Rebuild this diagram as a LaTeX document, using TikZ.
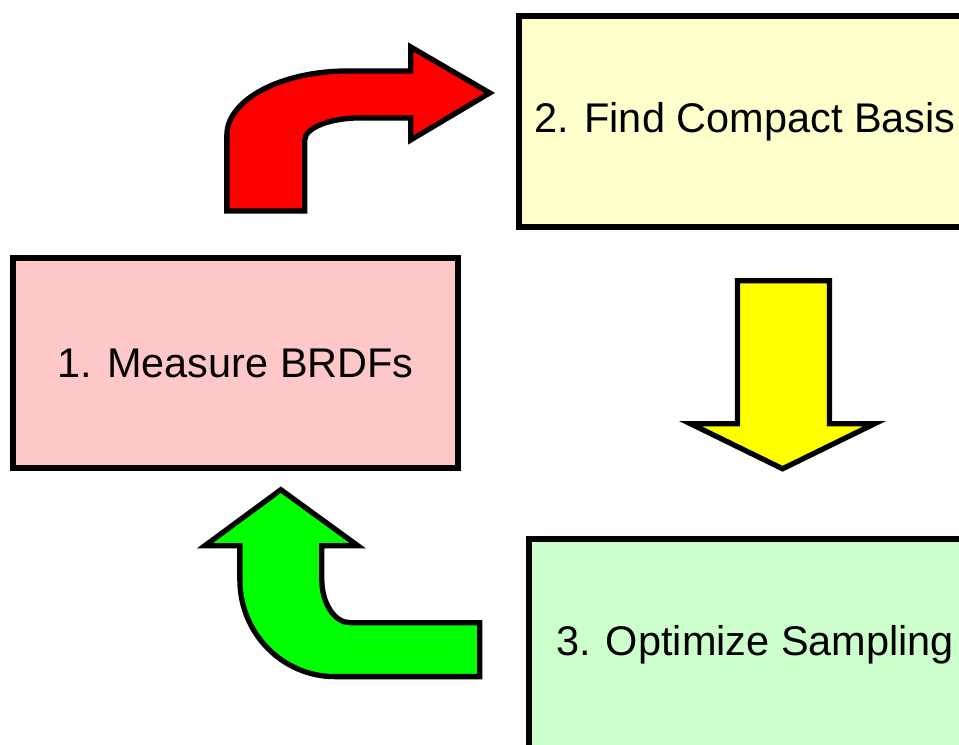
\documentclass[tikz,border=0pt]{standalone}
\usepackage{fontspec}
\setmainfont{Liberation Sans}
\usepackage{tikz}
\usetikzlibrary{positioning}
\definecolor{measurepink}{RGB}{255,200,200}
\definecolor{basisyellow}{RGB}{255,255,204}
\definecolor{samplinggreen}{RGB}{204,255,204}
\definecolor{arrowred}{RGB}{255,0,0}
\definecolor{arrowyellow}{RGB}{255,255,0}
\definecolor{arrowgreen}{RGB}{0,255,0}

\begin{document}
\begin{tikzpicture}[every node/.style={font=\fontsize{11.8}{14}\selectfont}, blockarrow/.style={draw, line width=1.5pt, line join=miter}]
    \useasboundingbox (0,0) rectangle (9.59,-7.44);
    \clip (0,0) rectangle (9.59,-7.44);
    \node[draw, line width=1.5pt, outer sep=0pt, fill=measurepink, minimum width=4.45cm, minimum height=2.10cm] (measure) at (2.355,-3.63) {1. Measure BRDFs};
    \node[draw, line width=1.5pt, outer sep=0pt, fill=basisyellow, minimum width=4.52cm, minimum height=2.11cm, right=0.61cm of measure, yshift=2.415cm] (basis) {2. Find Compact Basis};
    \node[draw, line width=1.5pt, outer sep=0pt, fill=samplinggreen, minimum width=4.52cm, minimum height=2.12cm, right=0.71cm of measure, yshift=-2.82cm] (sampling) {3. Optimize Sampling};
    \begin{scope}[x=0.01cm, y=-0.01cm]
        \draw[blockarrow, fill=arrowred] (227,211) -- (227,135) .. controls (227,100) and (281,71) .. (348,71) -- (411,71) -- (411,47) -- (490,93) -- (411,140) -- (411,118) -- (360,118) .. controls (330,118) and (305,128) .. (305,140) -- (305,211) -- cycle;
        \draw[blockarrow, fill=arrowyellow] (738,281) -- (830,281) -- (830,424) -- (875,424) -- (783,469) -- (691,424) -- (738,424) -- cycle;
        \draw[blockarrow, fill=arrowgreen] (480,623) -- (350,623) .. controls (335,623) and (322,604) .. (322,580) -- (322,546) -- (358,546) -- (281,490) -- (205,546) -- (240,546) -- (240,580) .. controls (240,634) and (283,677) .. (335,677) -- (480,677) -- cycle;
    \end{scope}
\end{tikzpicture}
\end{document}
